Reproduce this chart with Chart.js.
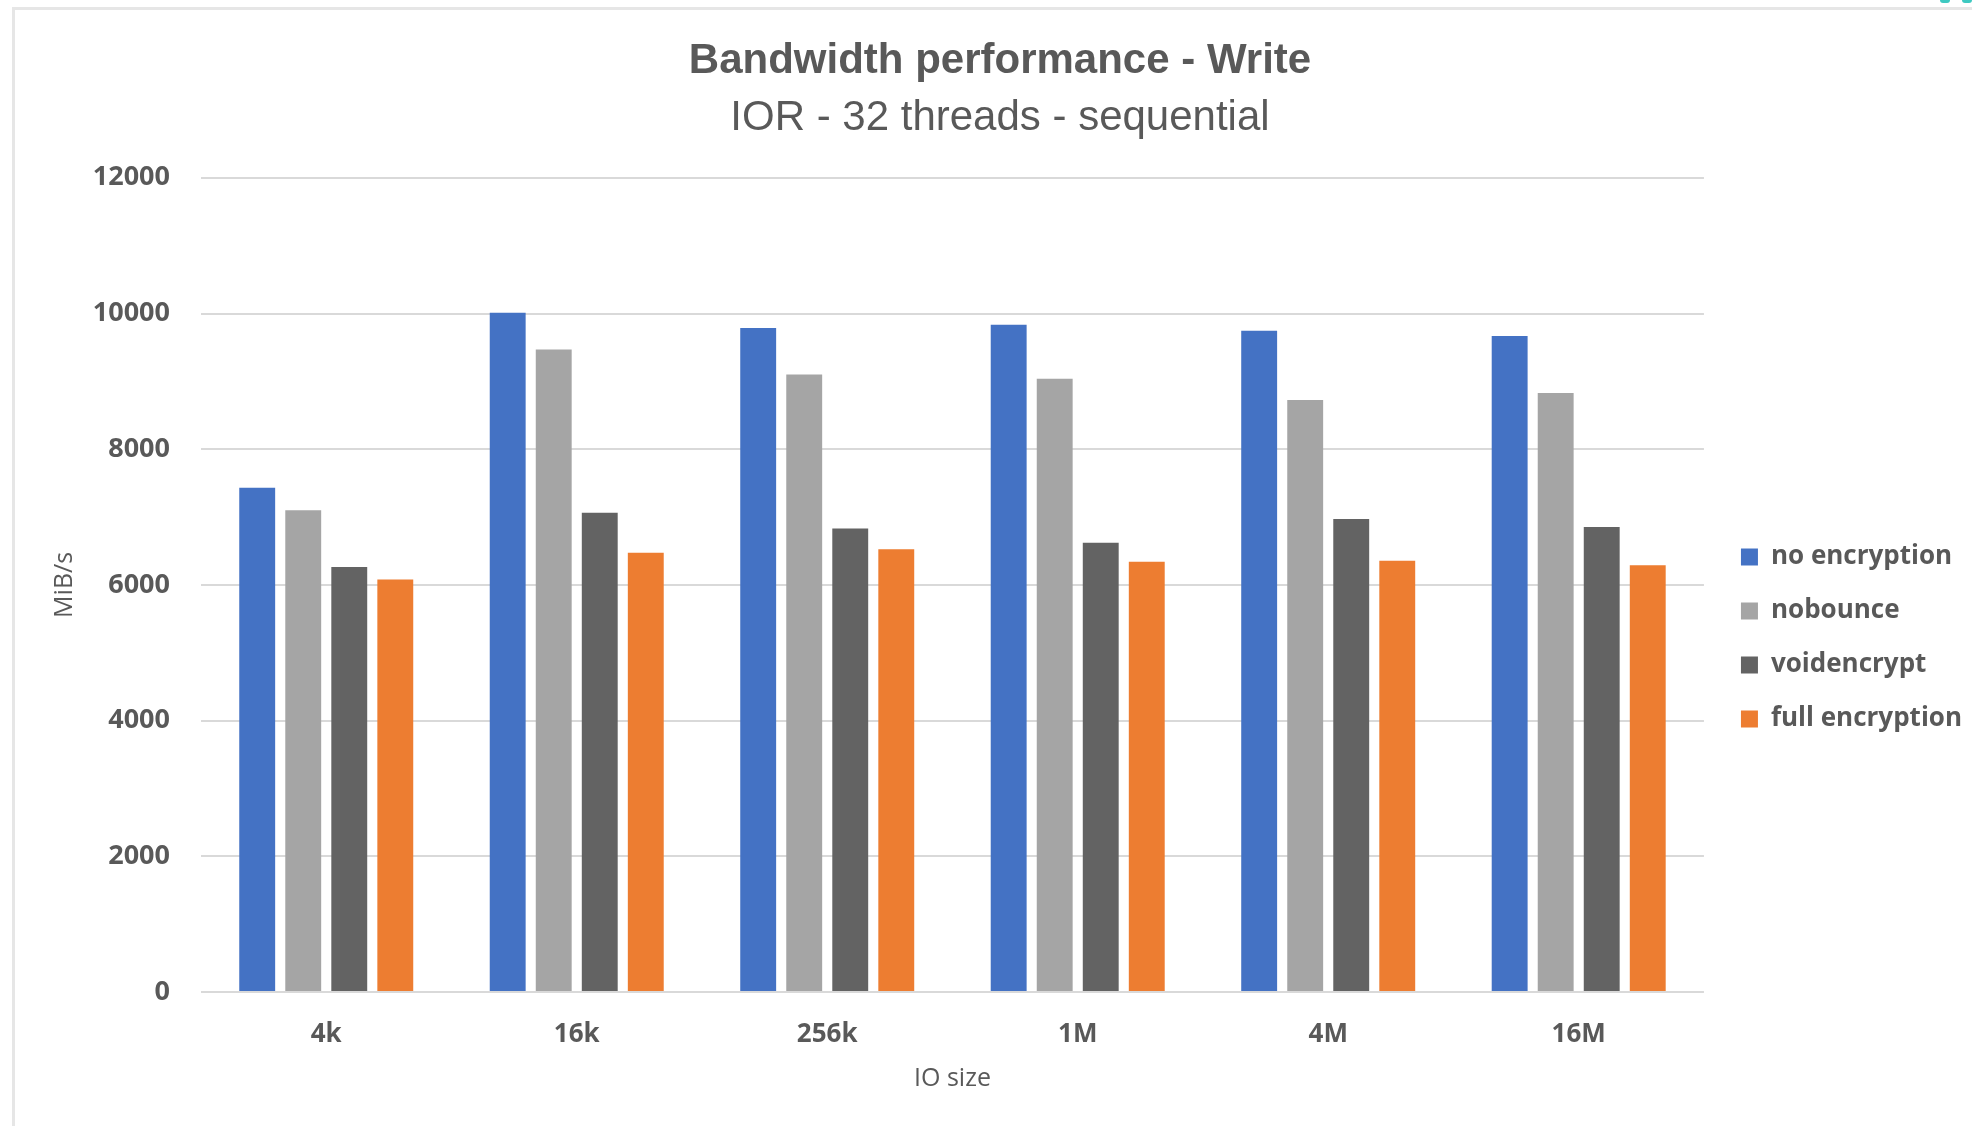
<!DOCTYPE html>
<html>
<head>
<meta charset="utf-8">
<title>Bandwidth performance - Write</title>
<script src="https://cdn.jsdelivr.net/npm/chart.js@4.4.1/dist/chart.umd.min.js"></script>
<style>
  html, body { margin: 0; padding: 0; background: #ffffff; }
  #wrap { position: relative; width: 1972px; height: 1126px; overflow: hidden; background: #ffffff; }
  #frame { position: absolute; left: 12px; top: 7px; right: -10px; bottom: -10px;
           border-left: 3px solid #e6e6e6; border-top: 3px solid #e6e6e6; pointer-events: none; }
  .dot { position: absolute; top: -3px; width: 10px; height: 6px; border-radius: 5px; background: #3ec9c1; }
  canvas { position: absolute; left: 0; top: 0; }
</style>
</head>
<body>
<div id="wrap">
  <canvas id="chart" width="1972" height="1126"></canvas>
  <div id="frame"></div>
  <div class="dot" style="left:1940px"></div>
  <div class="dot" style="left:1962px"></div>
</div>
<script>
// IO sizes tested
const categories = ['4k', '16k', '256k', '1M', '4M', '16M'];

// Write bandwidth in MiB/s per configuration
const noEncryption   = [7430, 10010, 9785, 9835, 9745, 9670];
const nobounce       = [7100, 9470, 9100, 9040, 8725, 8830];
const voidencrypt    = [6265, 7065, 6830, 6620, 6970, 6855];
const fullEncryption = [6080, 6475, 6525, 6340, 6355, 6290];

const seriesNames  = ['no encryption', 'nobounce', 'voidencrypt', 'full encryption'];
const seriesColors = ['#4472C4', '#A5A5A5', '#636363', '#ED7D31'];

const titleText    = 'Bandwidth performance - Write';
const subtitleText = 'IOR - 32 threads - sequential';
const yAxisTitle   = 'MiB/s';
const xAxisTitle   = 'IO size';
const yMax  = 12000;
const yStep = 2000;

const textColor = '#595959';
const gridColor = '#d9d9d9';
const sans  = '"Liberation Sans", Arial, sans-serif';
const open  = '"Open Sans", "Liberation Sans", sans-serif';

const seriesValues = [noEncryption, nobounce, voidencrypt, fullEncryption];

const datasets = seriesNames.map((name, i) => ({
  label: name,
  data: seriesValues[i],
  backgroundColor: seriesColors[i],
  borderWidth: 0,
  categoryPercentage: 0.735,
  barPercentage: 0.78
}));

new Chart(document.getElementById('chart'), {
  type: 'bar',
  data: { labels: categories, datasets },
  options: {
    responsive: false,
    animation: false,
    devicePixelRatio: 1,
    layout: { padding: { left: 28, right: 0, top: 0, bottom: 0 } },
    plugins: {
      tooltip: { enabled: false },
      title: {
        display: true,
        text: titleText,
        color: textColor,
        font: { family: sans, size: 42, weight: 'bold' },
        padding: { top: 36, bottom: 0 }
      },
      subtitle: {
        display: true,
        text: subtitleText,
        color: textColor,
        font: { family: sans, size: 42, weight: 'normal' },
        padding: { top: 7, bottom: 34 }
      },
      legend: {
        position: 'right',
        align: 'center',
        title: { display: true, text: ' ', font: { size: 10 }, padding: 69 },
        labels: {
          color: textColor,
          font: { family: open, size: 26, weight: 'bold' },
          boxWidth: 17,
          boxHeight: 17,
          padding: 28
        }
      }
    },
    scales: {
      x: {
        grid: { display: false, drawTicks: false },
        border: { display: false },
        ticks: {
          color: textColor,
          font: { family: open, size: 26, weight: 'bold' },
          padding: 27
        },
        title: {
          display: true,
          text: xAxisTitle,
          color: textColor,
          font: { family: open, size: 25 },
          padding: { top: 0, bottom: 32 }
        },
        afterFit: (s) => { s.height = 134; }
      },
      y: {
        min: 0,
        max: yMax,
        grid: { color: gridColor, lineWidth: 2, drawTicks: false },
        border: { display: false },
        ticks: {
          stepSize: yStep,
          color: textColor,
          font: { family: open, size: 27, weight: 'bold' },
          padding: 31,
          callback: (v) => String(v)
        },
        title: {
          display: true,
          text: yAxisTitle,
          color: textColor,
          font: { family: open, size: 25 },
          padding: { top: 22, bottom: 0 }
        },
        afterFit: (s) => { s.width = 173; }
      },
      gap: {
        position: 'right',
        display: true,
        grid: { display: false, drawTicks: false },
        border: { display: false },
        ticks: { display: false },
        afterFit: (s) => { s.width = 9; }
      }
    }
  }
});
</script>
</body>
</html>
